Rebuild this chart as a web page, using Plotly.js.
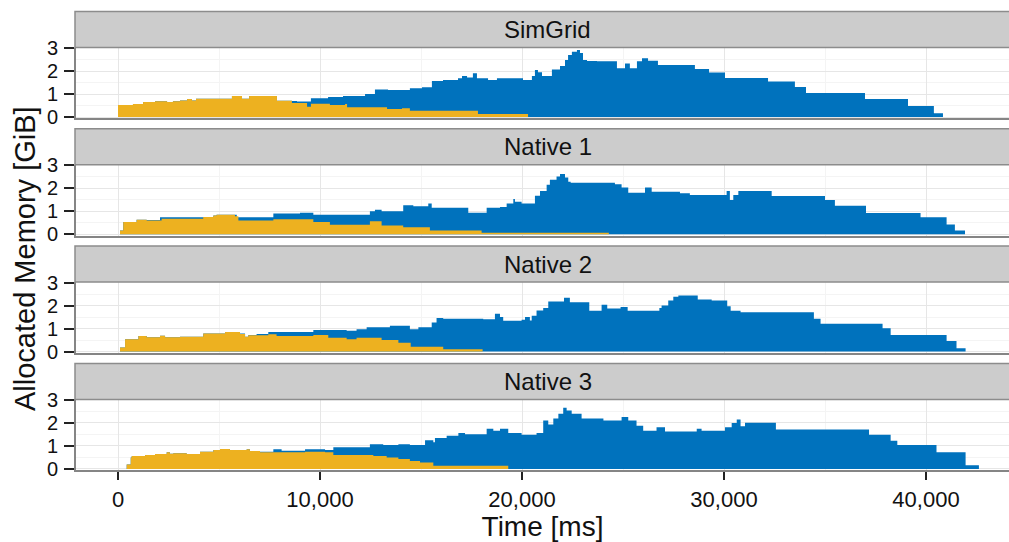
<!DOCTYPE html>
<html>
<head>
<meta charset="utf-8">
<script src="https://cdn.plot.ly/plotly-3.0.1.min.js"></script>
<style>html,body{margin:0;padding:0;background:#fff;}#chart{width:1009px;height:542px;}</style>
</head>
<body>
<div id="chart"></div>
<script>
// ---- data (time in ms, memory in GiB) ----
const panelNames = ["SimGrid", "Native 1", "Native 2", "Native 3"];

const simgridBlueT = [0, 740, 1240, 1830, 2430, 2720, 3070, 3420, 3660, 3860, 5640, 6140, 6490, 7870, 8610, 8860, 9550, 10400, 11140, 12230, 12720, 13370, 14450, 15050, 15540, 16090, 16830, 17030, 17280, 17570, 17770, 18320, 18760, 20050, 20490, 20640, 20790, 20990, 21480, 21880, 22130, 22280, 22470, 22720, 22870, 23020, 23220, 23710, 24700, 25100, 25340, 25690, 25940, 26240, 26730, 28560, 29260, 30050, 32180, 33510, 34060, 36980, 39110, 40390, 40840];
const simgridBlueV = [0.52, 0.57, 0.65, 0.69, 0.65, 0.68, 0.72, 0.78, 0.72, 0.79, 0.91, 0.79, 0.91, 0.71, 0.70, 0.67, 0.81, 0.87, 0.91, 1.0, 1.2, 1.17, 1.25, 1.29, 1.57, 1.61, 1.68, 1.78, 1.72, 1.9, 1.68, 1.61, 1.68, 1.61, 1.78, 2.04, 1.95, 1.78, 2.07, 2.22, 2.48, 2.7, 2.84, 2.91, 2.78, 2.48, 2.43, 2.42, 2.12, 2.33, 2.12, 2.42, 2.55, 2.45, 2.26, 2.09, 1.93, 1.70, 1.54, 1.30, 1.04, 0.78, 0.48, 0.16, 0];
const simgridYellowT = [0, 740, 1240, 1830, 2430, 2720, 3070, 3420, 3660, 3860, 5640, 6140, 6490, 7870, 8610, 9360, 9550, 10490, 11240, 11340, 13320, 14060, 14450, 17820, 20300];
const simgridYellowV = [0.52, 0.57, 0.65, 0.69, 0.65, 0.68, 0.72, 0.78, 0.72, 0.79, 0.91, 0.79, 0.91, 0.71, 0.61, 0.45, 0.58, 0.52, 0.57, 0.42, 0.35, 0.38, 0.27, 0.13, 0];

const native1BlueT = [100, 260, 920, 1420, 2080, 4720, 4880, 5880, 7690, 9010, 9670, 12470, 12720, 13050, 14120, 14620, 15360, 15530, 17340, 18250, 18910, 19240, 19570, 19650, 19980, 20640, 20890, 21220, 21380, 21710, 21880, 22130, 22290, 22410, 24600, 24930, 25260, 26090, 26420, 27820, 28310, 30130, 30290, 30460, 30710, 32360, 35000, 35490, 37030, 39730, 41020, 41430, 41930];
const native1BlueV = [0.16, 0.53, 0.63, 0.62, 0.74, 0.82, 0.85, 0.74, 0.9, 0.94, 0.85, 1.0, 1.07, 1.0, 1.26, 1.22, 1.34, 1.15, 0.94, 1.15, 1.19, 1.34, 1.53, 1.41, 1.34, 1.68, 1.88, 2.15, 2.37, 2.51, 2.62, 2.47, 2.29, 2.24, 2.18, 2.03, 1.81, 2.03, 1.85, 1.79, 1.71, 1.88, 1.49, 1.71, 1.88, 1.66, 1.49, 1.24, 0.93, 0.74, 0.43, 0.16, 0];
const native1YellowT = [100, 260, 920, 1420, 2160, 4220, 4720, 4880, 5790, 5960, 7690, 9670, 10490, 12470, 13050, 14120, 15440, 18000, 24300];
const native1YellowV = [0.16, 0.53, 0.63, 0.6, 0.68, 0.75, 0.82, 0.85, 0.79, 0.6, 0.65, 0.53, 0.41, 0.57, 0.38, 0.31, 0.16, 0.07, 0];

const native2BlueT = [100, 350, 1010, 1420, 2080, 2330, 3070, 4220, 5300, 6040, 6290, 6450, 6860, 7440, 9670, 11320, 11810, 12310, 13460, 14450, 14870, 15530, 15770, 16100, 18080, 18660, 18910, 19070, 19980, 20150, 20390, 20480, 20720, 21050, 21300, 22080, 22370, 23330, 23940, 24220, 24880, 25230, 26800, 26910, 27240, 27490, 27740, 28700, 29390, 30160, 30330, 30820, 34450, 34780, 37850, 38250, 41020, 41510, 41960];
const native2BlueV = [0.18, 0.54, 0.68, 0.62, 0.69, 0.62, 0.65, 0.79, 0.85, 0.79, 0.65, 0.72, 0.76, 0.85, 0.94, 0.91, 0.97, 1.06, 1.12, 0.97, 1.06, 1.26, 1.46, 1.43, 1.41, 1.65, 1.5, 1.34, 1.38, 1.5, 1.35, 1.56, 1.79, 1.9, 2.18, 2.34, 2.15, 1.78, 2.04, 1.87, 1.94, 1.78, 1.9, 2.0, 2.22, 2.38, 2.44, 2.26, 2.22, 1.97, 1.78, 1.71, 1.43, 1.21, 1.01, 0.72, 0.46, 0.15, 0];
const native2YellowT = [100, 350, 1010, 1420, 2080, 2330, 3070, 4220, 5300, 6040, 6290, 6450, 7440, 7850, 9670, 10410, 11320, 11810, 13050, 13880, 14490, 16100, 18050];
const native2YellowV = [0.18, 0.54, 0.68, 0.62, 0.69, 0.62, 0.65, 0.79, 0.85, 0.76, 0.65, 0.71, 0.75, 0.68, 0.72, 0.6, 0.54, 0.6, 0.5, 0.38, 0.21, 0.1, 0];

const native3BlueT = [430, 630, 680, 1340, 1830, 2410, 2570, 2740, 3400, 4060, 4720, 5050, 5540, 6370, 6530, 7030, 7690, 8100, 9260, 10250, 10660, 12470, 13130, 13880, 14450, 15200, 15610, 15690, 16270, 16850, 17180, 18250, 18580, 18910, 19320, 19980, 20720, 21050, 21300, 21550, 21800, 22040, 22210, 22460, 22950, 24030, 24930, 25260, 25670, 26000, 26660, 27080, 28650, 28890, 30050, 30380, 30630, 30820, 31040, 32570, 37180, 38250, 38580, 40520, 41960, 42620];
const native3BlueV = [0.19, 0.5, 0.56, 0.6, 0.65, 0.72, 0.66, 0.68, 0.65, 0.75, 0.82, 0.87, 0.82, 0.85, 0.78, 0.75, 0.85, 0.79, 0.85, 0.82, 0.94, 1.07, 1.04, 1.07, 1.04, 1.25, 1.16, 1.34, 1.44, 1.56, 1.51, 1.75, 1.66, 1.75, 1.56, 1.49, 1.56, 2.1, 1.93, 2.19, 2.4, 2.66, 2.54, 2.4, 2.19, 2.1, 2.26, 2.1, 1.88, 1.66, 1.81, 1.63, 1.75, 1.66, 1.81, 2.0, 2.15, 1.85, 2.01, 1.71, 1.49, 1.22, 1.04, 0.72, 0.16, 0];
const native3YellowT = [430, 630, 680, 1340, 1830, 2410, 2570, 2740, 3400, 4060, 4720, 5050, 5540, 6370, 6530, 7030, 9260, 10250, 10660, 12640, 13300, 13880, 14450, 14950, 15610, 19320];
const native3YellowV = [0.19, 0.5, 0.56, 0.6, 0.65, 0.72, 0.66, 0.68, 0.65, 0.75, 0.82, 0.87, 0.82, 0.85, 0.78, 0.72, 0.75, 0.72, 0.6, 0.56, 0.5, 0.43, 0.34, 0.28, 0.14, 0];

const xTickVals = [0, 10000, 20000, 30000, 40000];
const yTickVals = [0, 1, 2, 3];

// ---- styling / layout ----
const BLUE = "#0072BD", YELLOW = "#EDB120";
const FONT = "Liberation Sans, Arial, Helvetica, sans-serif";
const W = 1009, H = 542, ML = 76, PW = W - ML;
const fy = py => 1 - py / H;
const fx = px => (px - ML) / PW;
const PXU = 23;            // px per GiB
const panels = [
  [simgridBlueT, simgridBlueV, simgridYellowT, simgridYellowV],
  [native1BlueT, native1BlueV, native1YellowT, native1YellowV],
  [native2BlueT, native2BlueV, native2YellowT, native2YellowV],
  [native3BlueT, native3BlueV, native3YellowT, native3YellowV]
];

const traces = [], shapes = [], annotations = [];
const layout = {
  width: W, height: H,
  margin: {l: ML, r: 0, t: 0, b: 0},
  paper_bgcolor: "#fff", plot_bgcolor: "#fff",
  showlegend: false,
  font: {family: FONT, color: "#111"}
};

panels.forEach((p, i) => {
  const n = i === 0 ? "" : String(i + 1);
  const zero = 117 + 117.3 * i;
  const top = zero - 69.5, bot = zero + 1.3;
  const stripTop = zero - 105.5;
  traces.push({x: p[0], y: p[1], xaxis: "x" + n, yaxis: "y" + n, type: "scatter", mode: "lines",
    line: {shape: "hv", width: 0, color: BLUE}, fill: "tozeroy", fillcolor: BLUE, hoverinfo: "skip"});
  traces.push({x: p[2], y: p[3], xaxis: "x" + n, yaxis: "y" + n, type: "scatter", mode: "lines",
    line: {shape: "hv", width: 0, color: YELLOW}, fill: "tozeroy", fillcolor: YELLOW, hoverinfo: "skip"});
  const last = i === panels.length - 1;
  layout["xaxis" + n] = {
    anchor: "y" + n, domain: [0, 1],
    range: [(ML - 118) / 0.0202, (W - 118) / 0.0202],
    tickmode: "array", tickvals: xTickVals, tickformat: ",d",
    showticklabels: last, ticks: last ? "outside" : "", ticklen: 8, tickwidth: 2, tickcolor: "#222",
    tickfont: {size: 22, family: FONT, color: "#111"},
    showgrid: true, gridcolor: "#E6E6E6", gridwidth: 1,
    minor: {tickmode: "array", tickvals: [5000, 15000, 25000, 35000], showgrid: true, gridcolor: "#F4F4F4", gridwidth: 1},
    showline: true, linecolor: "#858585", linewidth: 2, mirror: false, zeroline: false, fixedrange: true
  };
  if (i > 0) layout["xaxis" + n].matches = "x";
  layout["yaxis" + n] = {
    anchor: "x" + n, domain: [fy(bot), fy(top)],
    range: [-1.3 / PXU, 69.5 / PXU],
    tickmode: "array", tickvals: yTickVals, ticks: "outside", ticklen: 10, tickwidth: 2, tickcolor: "#222",
    showticklabels: false,
    showgrid: true, gridcolor: "#E6E6E6", gridwidth: 1,
    minor: {tickmode: "array", tickvals: [0.5, 1.5, 2.5], showgrid: true, gridcolor: "#F4F4F4", gridwidth: 1},
    showline: true, linecolor: "#858585", linewidth: 2, zeroline: false, fixedrange: true
  };
  // y tick labels, placed at the tick values of this panel's axis
  yTickVals.forEach(v => {
    annotations.push({xref: "paper", yref: "y" + n, x: fx(60), y: v, text: String(v), showarrow: false,
      xanchor: "right", yanchor: "middle", font: {size: 20, family: FONT, color: "#111"}});
  });
  shapes.push({type: "rect", xref: "paper", yref: "paper", x0: fx(75), x1: 1.002, y0: fy(top), y1: fy(stripTop),
    fillcolor: "#CCCCCC", line: {color: "#8C8C8C", width: 1.5}, layer: "above"});
  annotations.push({xref: "paper", yref: "paper", x: fx(547.5), y: fy((stripTop + top) / 2),
    text: panelNames[i], showarrow: false, xanchor: "center", yanchor: "middle",
    font: {size: 24, family: FONT, color: "#111"}});
});

layout.xaxis4.title = {text: "Time [ms]", font: {size: 28, family: FONT, color: "#111"}, standoff: 7};
annotations.push({xref: "paper", yref: "paper", x: fx(25), y: fy(259), text: "Allocated Memory [GiB]",
  textangle: -90, showarrow: false, xanchor: "center", yanchor: "middle",
  font: {size: 29, family: FONT, color: "#111"}});
layout.shapes = shapes;
layout.annotations = annotations;

Plotly.newPlot("chart", traces, layout, {staticPlot: true, displayModeBar: false});
</script>
</body>
</html>
